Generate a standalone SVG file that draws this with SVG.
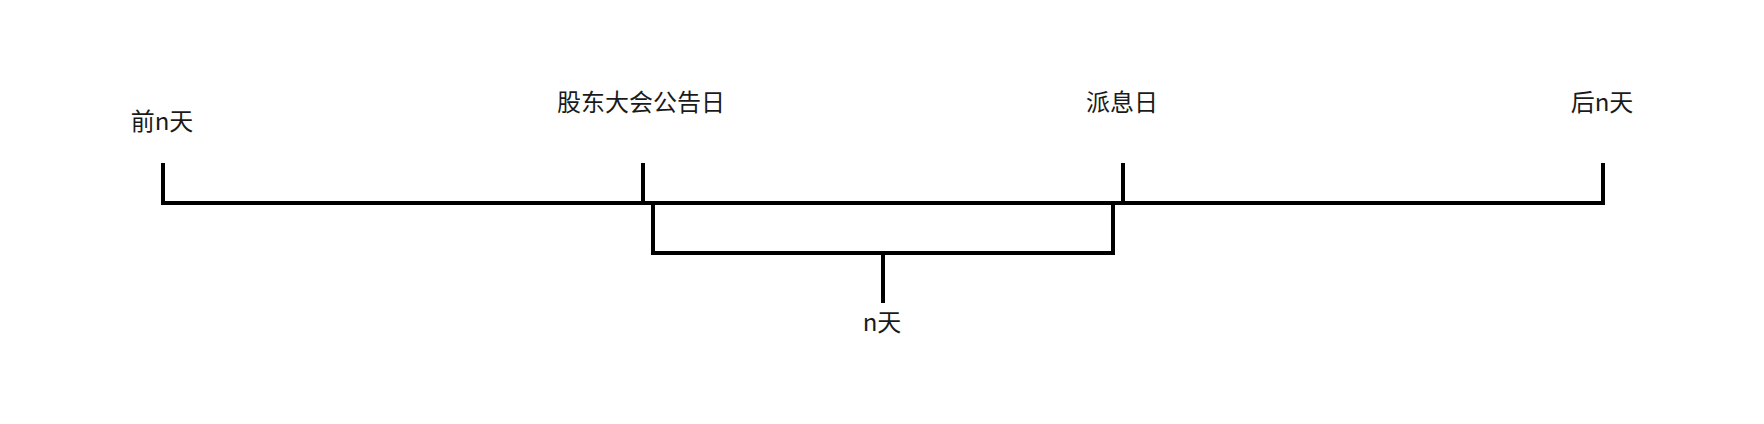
<svg xmlns="http://www.w3.org/2000/svg" width="1764" height="424" viewBox="0 0 1764 424">
<style>
.ln{fill:none;stroke:#000;stroke-width:4;stroke-linecap:square;stroke-linejoin:miter}
.lb{font-family:"Microsoft YaHei","Noto Sans CJK SC","Noto Sans",sans-serif;font-size:24px;fill:#1a1a1a;text-anchor:middle}
</style>
<rect width="1764" height="424" fill="#fff"/>
<g id="connectors">
<path class="ln" d="M163,165 V203 H1603 V165"/>
<path class="ln" d="M643,165 V203"/>
<path class="ln" d="M1123,165 V203"/>
<path class="ln" d="M653,203 V253 H1113 V203"/>
<path class="ln" d="M883,253 V301"/>
</g>
<g id="node-before"><text class="lb" x="162" y="130">前n天</text></g>
<g id="node-announce"><text class="lb" x="641" y="111">股东大会公告日</text></g>
<g id="node-dividend"><text class="lb" x="1122" y="111">派息日</text></g>
<g id="node-after"><text class="lb" x="1602" y="111">后n天</text></g>
<g id="node-ndays"><text class="lb" x="882" y="331">n天</text></g>
</svg>
